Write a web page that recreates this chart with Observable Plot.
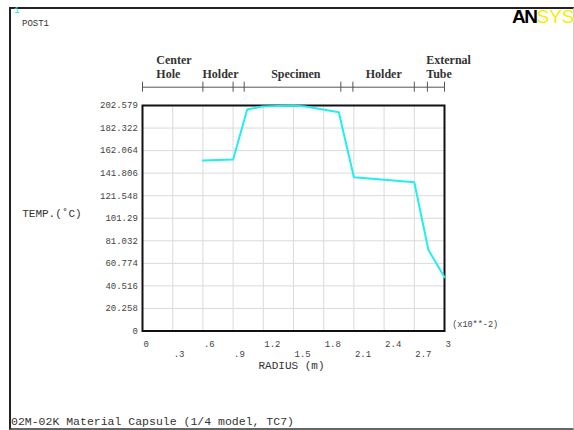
<!DOCTYPE html>
<html>
<head>
<meta charset="utf-8">
<script src="https://cdn.jsdelivr.net/npm/d3@7"></script>
<script src="https://cdn.jsdelivr.net/npm/@observablehq/plot@0.6"></script>
<style>
  html, body { margin: 0; padding: 0; background: #fff; }
  #chart { position: relative; width: 574px; height: 430px; overflow: hidden; background: #fff; }
  #chart svg { position: absolute; left: 0; top: 0; }
  .box { position: absolute; left: 9px; top: 7px; width: 565px; height: 423px; box-sizing: border-box;
         border-top: 2px solid #222; border-left: 2px solid #222; border-bottom: 2px solid #666; border-right: 1px solid #ccc; }
  .win { position: absolute; left: 14px; top: 7px; font: 9px "Liberation Mono", monospace; color: #22e6e6; line-height: 1; }
  .post { position: absolute; left: 22px; top: 20px; font: 9px "Liberation Mono", monospace; color: #333; line-height: 1; }
  .logo { position: absolute; left: 512px; top: 7px; font: 19px "Liberation Sans", Arial, sans-serif; line-height: 1; white-space: nowrap; letter-spacing: -1.5px; }
  .logo b { color: #000; font-weight: 900; }
  .logo span { color: #f2f000; font-weight: 400; letter-spacing: 0; }
  .caption { position: absolute; left: 11px; top: 416px; font: 11.5px "Liberation Mono", monospace; color: #333; line-height: 1; white-space: nowrap; }
</style>
</head>
<body>
<div id="chart">
  <div class="box"></div>
  <div class="win">1</div>
  <div class="post">POST1</div>
  <div class="logo"><b>AN</b><span>SYS</span></div>
  <div class="caption">02M-02K Material Capsule (1/4 model, TC7)</div>
</div>
<script>
// Radial temperature profile (radius in units of 10^-2 m)
const radius      = [0.6,   0.9,   1.04,  1.19,  1.5,   1.62,  1.95,  2.1,   2.7,   2.84, 3.0];
const temperature = [153.2, 154.1, 199.0, 201.7, 202.5, 201.7, 196.6, 138.2, 133.7, 72.9, 48.3];

// Axis ticks and their printed labels
const xTicks      = [0, 0.3, 0.6, 0.9, 1.2, 1.5, 1.8, 2.1, 2.4, 2.7, 3];
const xTickLabels = ["0", ".3", ".6", ".9", "1.2", "1.5", "1.8", "2.1", "2.4", "2.7", "3"];
const yTicks      = [0, 20.258, 40.516, 60.774, 81.032, 101.29, 121.548, 141.806, 162.064, 182.322, 202.579];
const yTickLabels = ["0", "20.258", "40.516", "60.774", "81.032", "101.29", "121.548", "141.806", "162.064", "182.322", "202.579"];

// Material regions across the capsule radius
const regionBounds     = [0, 0.6, 0.9, 1.01, 1.97, 2.09, 2.7, 2.83, 3.0];
const regionNames      = ["Center\nHole", "Holder", "Specimen", "Holder", "External\nTube"];
const regionLabelStart = [0.137, 0.596, 1.278, 2.218, 2.819];

const yMax = yTicks[yTicks.length - 1];
const profile = radius.map((r, i) => ({r, t: temperature[i]}));
const xFmt = d => xTickLabels[xTicks.indexOf(d)];
const yFmt = d => yTickLabels[yTicks.indexOf(d)];
const row1 = xTicks.filter((d, i) => i % 2 === 0);
const row2 = xTicks.filter((d, i) => i % 2 === 1);

const plot = Plot.plot({
  width: 574,
  height: 430,
  marginLeft: 142,
  marginRight: 130,
  marginTop: 105,
  marginBottom: 99.5,
  x: {domain: [0, 3]},
  y: {domain: [0, yMax]},
  style: {fontFamily: "'Liberation Mono', monospace", fontSize: "9px", color: "#444", background: "transparent", overflow: "visible"},
  marks: [
    Plot.gridX(xTicks, {stroke: "#dadada", strokeOpacity: 1}),
    Plot.gridY(yTicks, {stroke: "#dadada", strokeOpacity: 1}),
    Plot.axisY({ticks: yTicks, tickFormat: yFmt, tickSize: 0, tickPadding: 4.7, label: null, fill: "#444"}),
    Plot.axisX({ticks: row1, tickFormat: xFmt, tickSize: 0, tickPadding: 9.4, textAnchor: "start", dx: 1, label: null, fill: "#444"}),
    Plot.axisX({ticks: row2, tickFormat: xFmt, tickSize: 0, tickPadding: 19.8, textAnchor: "start", dx: 1, label: null, fill: "#444"}),
    Plot.frame({stroke: "#111", strokeWidth: 2}),
    Plot.line(profile, {x: "r", y: "t", stroke: "#22eeee", strokeWidth: 2}),
    // region bar above the plot
    Plot.ruleY([yMax], {x1: regionBounds[0], x2: regionBounds[regionBounds.length - 1], dy: -18.3, stroke: "#555"}),
    Plot.ruleX(regionBounds, {x: d => d, y1: yMax, y2: yMax, insetTop: -5, insetBottom: -5, dy: -18.3, stroke: "#555"}),
    Plot.text(regionNames, {
      x: (d, i) => regionLabelStart[i], frameAnchor: "top", dy: -27.7,
      lineAnchor: "bottom", textAnchor: "start", lineHeight: 1.11,
      fontFamily: "'Liberation Serif', 'Times New Roman', serif", fontWeight: "bold", fontSize: 12, fill: "#333"
    }),
    // axis titles
    Plot.text(["TEMP.(˚C)"], {frameAnchor: "left", textAnchor: "start", dx: -120.3, dy: -5, fontSize: 11, fill: "#333"}),
    Plot.text(["RADIUS (m)"], {frameAnchor: "bottom", dx: -2, dy: 37.6, fontSize: 11, fill: "#333"}),
    Plot.text(["(x10**-2)"], {frameAnchor: "bottom-right", textAnchor: "start", dx: 7.7, dy: -4.5, fontSize: 8.5, fill: "#444"})
  ]
});
document.getElementById("chart").appendChild(plot);
</script>
</body>
</html>
